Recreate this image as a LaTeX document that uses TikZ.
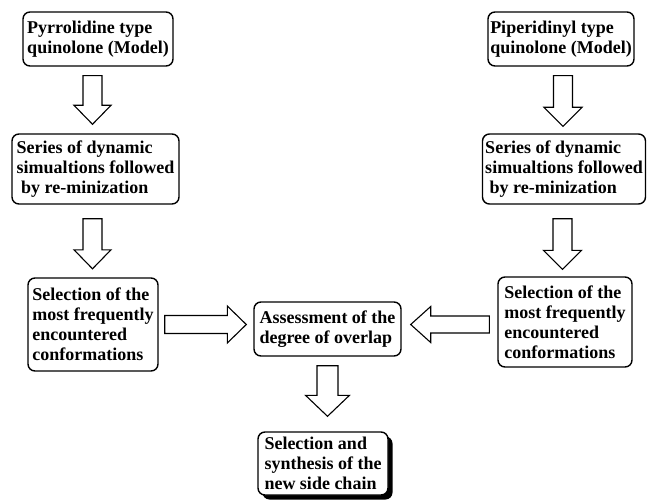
\documentclass[tikz,border=0pt]{standalone}
\usepackage{fontspec}
\setmainfont{Liberation Serif}
\usetikzlibrary{calc,shadows}
% block arrows: #1 start (shaft centre), #2 tip, #3 shaft half width, #4 head half width, #5 head length
\newcommand\blkdown[5]{\draw[blk] let \p1=(#1), \p2=(#2) in
  (\x1-#3,\y1) -- (\x1+#3,\y1) -- (\x1+#3,\y2+#5) -- (\x1+#4,\y2+#5) -- (\x1,\y2)
  -- (\x1-#4,\y2+#5) -- (\x1-#3,\y2+#5) -- cycle;}
\newcommand\blkright[5]{\draw[blk] let \p1=(#1), \p2=(#2) in
  (\x1,\y1+#3) -- (\x2-#5,\y1+#3) -- (\x2-#5,\y1+#4) -- (\x2,\y1) -- (\x2-#5,\y1-#4)
  -- (\x2-#5,\y1-#3) -- (\x1,\y1-#3) -- cycle;}
\newcommand\blkleft[5]{\draw[blk] let \p1=(#1), \p2=(#2) in
  (\x1,\y1+#3) -- (\x2+#5,\y1+#3) -- (\x2+#5,\y1+#4) -- (\x2,\y1) -- (\x2+#5,\y1-#4)
  -- (\x2+#5,\y1-#3) -- (\x1,\y1-#3) -- cycle;}
\begin{document}
\begin{tikzpicture}[x=1pt,y=-1pt,
  box/.style={draw, line width=1.4pt, rounded corners=7pt, inner sep=0pt, align=left,
    font=\bfseries\fontsize{18}{20}\selectfont},
  blk/.style={draw, line width=1.1pt, fill=white, line join=miter}]
\useasboundingbox (0,0) rectangle (647,500);
\fill[white] (0,0) rectangle (647,500);

\node[box, minimum width=150pt, minimum height=54pt] (p1) at (98,39) {Pyrrolidine type\\quinolone (Model)};
\node[box, minimum width=167pt, minimum height=70pt] (s1) at (95.5,169) {Series of dynamic\\simualtions followed\\\hspace{4.4pt}by re-minization};
\node[box, minimum width=130pt, minimum height=93pt] (c1) at (93,324.5) {Selection of the\\most frequently\\encountered\\conformations};

\node[box, minimum width=146pt, minimum height=54pt] (p2) at (561,39) {Piperidinyl type\\quinolone (Model)};
\node[box, minimum width=163pt, minimum height=70pt] (s2) at (564,169) {Series of dynamic\\simualtions followed\\\hspace{4.4pt}by re-minization};
\node[box, minimum width=134pt, minimum height=90pt] (c2) at (565,322) {Selection of the\\most frequently\\encountered\\conformations};

\node[box, minimum width=147pt, minimum height=54pt] (a) at (327.5,329) {Assessment of the\\degree of overlap};
\node[box, minimum width=130pt, minimum height=63pt,
  drop shadow={shadow xshift=4.5pt, shadow yshift=-4.5pt, fill=black, opacity=1}, fill=white] (f) at (323,463.5) {Selection and\\synthesis of the\\new side chain};

\blkdown{$(p1.south)+(-5.5,9)$}{$(s1.north)+(0,-9)$}{9.5pt}{18.5pt}{19pt}
\blkdown{$(s1.south)+(-3,14)$}{$(c1.north)+(0,-8.5)$}{9.5pt}{18.5pt}{19pt}
\blkdown{$(p2.south)+(2,9)$}{$(s2.north)+(0,-7)$}{9.5pt}{19pt}{19pt}
\blkdown{$(s2.south)+(-1.5,14)$}{$(c2.north)+(0,-7)$}{9.5pt}{19pt}{19pt}
\blkright{$(c1.east)+(6,0)$}{$(a.west)+(-7,0)$}{9pt}{18.5pt}{19pt}
\blkleft{$(c2.west)+(-8,2.5)$}{$(a.east)+(9,0)$}{8.5pt}{18pt}{20pt}
\blkdown{$(a.south)+(0,9)$}{$(f.north)+(0,-15)$}{10.5pt}{22pt}{21pt}
\end{tikzpicture}
\end{document}
